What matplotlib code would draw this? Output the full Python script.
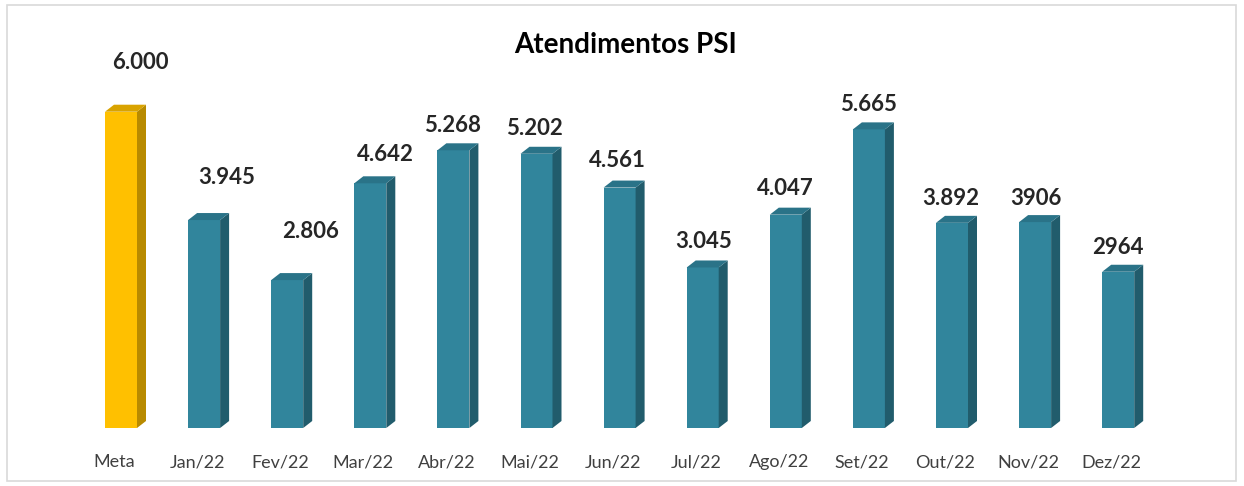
import matplotlib
matplotlib.use("Agg")
import matplotlib.pyplot as plt
from matplotlib.patches import Polygon, Rectangle

categories = ["Meta", "Jan/22", "Fev/22", "Mar/22", "Abr/22", "Mai/22", "Jun/22",
              "Jul/22", "Ago/22", "Set/22", "Out/22", "Nov/22", "Dez/22"]
values = [6000, 3945, 2806, 4642, 5268, 5202, 4561, 3045, 4047, 5665, 3892, 3906, 2964]
labels = ["6.000", "3.945", "2.806", "4.642", "5.268", "5.202", "4.561",
          "3.045", "4.047", "5.665", "3.892", "3906", "2964"]
# label offsets in pixels (dx, dy) relative to bar top centre
label_dx = [19, 23, 23, 15, -1, -2, -2, 1, 0, 0, -1, 1, 0]
label_dy = [49, 43, 49, 29, 25, 25, 27, 26, 26, 25, 24, 24, 24]

W, H = 1244, 486
fig = plt.figure(figsize=(W / 100, H / 100), dpi=100)
plt.rcParams['font.family'] = ['Lato', 'DejaVu Sans']

spacing = 83.1
ax_left = 121 - spacing / 2
ax_right = ax_left + 13 * spacing
ax_bottom_px, ax_top_px = 58, 456
ax = fig.add_axes([ax_left / W, ax_bottom_px / H, (ax_right - ax_left) / W,
                   (ax_top_px - ax_bottom_px) / H])
ymax = 7550
ax.set_xlim(-0.5, 12.5)
ax.set_ylim(0, ymax)
ax.axis("off")

px_x = 13 / (ax_right - ax_left)  # data per pixel x
px_y = ymax / (ax_top_px - ax_bottom_px)

bw = 32 * px_x
dx = 9 * px_x
dy = 7 * px_y

for i, (v, lab) in enumerate(zip(values, labels)):
    if i == 0:
        front, side, top = "#FFC000", "#B88A00", "#D9A300"
    else:
        front, side, top = "#31859C", "#215C6C", "#2A7388"
    x0 = i - bw / 2
    x1 = x0 + bw
    ax.bar(x0, v, width=bw, align="edge", color=front, edgecolor="none", zorder=2)
    ax.add_patch(Polygon([(x1, 0), (x1 + dx, dy), (x1 + dx, v + dy), (x1, v)],
                         closed=True, facecolor=side, edgecolor="none", zorder=2))
    ax.add_patch(Polygon([(x0, v), (x0 + dx, v + dy), (x1 + dx, v + dy), (x1, v)],
                         closed=True, facecolor=top, edgecolor="none", zorder=2))
    ax.text(i + label_dx[i] * px_x, v + label_dy[i] * px_y, lab, ha="center", va="center",
            fontsize=16, fontweight="bold", color="#262626", zorder=3)
    ax.text(i - 7 * px_x, -34 * px_y, categories[i], ha="center", va="center",
            fontsize=13, color="#404040", clip_on=False)

fig.text(626 / W, 1 - 45 / H, "Atendimentos PSI", ha="center", va="center",
         fontsize=20, fontweight="bold", color="#000000")

fig.patches.append(Rectangle((7 / W, 5 / H), (1236 - 7) / W, (481 - 5) / H,
                             transform=fig.transFigure, fill=False,
                             edgecolor="#D9D9D9", linewidth=1.2))

fig.savefig("out.png", dpi=100, facecolor="white")
